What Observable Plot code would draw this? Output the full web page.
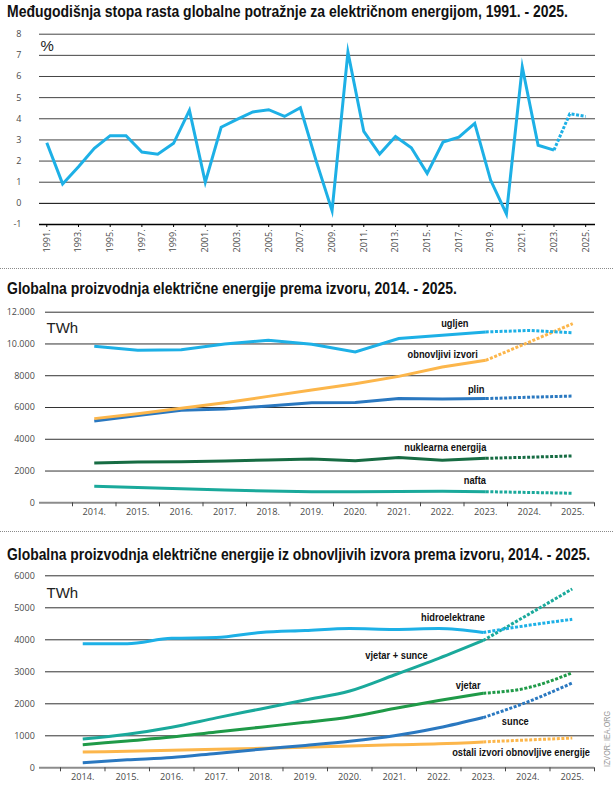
<!DOCTYPE html>
<html><head><meta charset="utf-8">
<script src="https://cdn.jsdelivr.net/npm/d3@7"></script>
<script src="https://cdn.jsdelivr.net/npm/@observablehq/plot@0.6"></script>
<style>
html,body{margin:0;padding:0;background:#fff;}
#root{position:relative;width:613px;height:791px;overflow:hidden;}
.title{position:absolute;left:7px;font-family:"Liberation Sans Narrow","Liberation Sans","Arial Narrow",sans-serif;font-weight:bold;font-size:16px;line-height:16px;color:#111;white-space:nowrap;transform-origin:0 0;}
.sep{position:absolute;left:0;width:613px;height:0;border-top:1px dotted #8a8a8a;}
.chart{position:absolute;left:0;}
.src{position:absolute;left:606.5px;top:739px;transform:translate(-50%,-50%) rotate(-90deg) scaleX(0.85);font-family:"Liberation Sans",sans-serif;font-size:8.5px;color:#9a9a9a;white-space:nowrap;}
</style></head>
<body><div id="root">
<div class="title" id="t1" data-w="561" style="top:4px">Međugodišnja stopa rasta globalne potražnje za električnom energijom, 1991. - 2025.</div>
<div class="chart" id="c1" style="top:0px"></div>
<div class="sep" style="top:268px"></div>
<div class="title" id="t2" data-w="450" style="top:280.5px">Globalna proizvodnja električne energije prema izvoru, 2014. - 2025.</div>
<div class="chart" id="c2" style="top:300px"></div>
<div class="sep" style="top:531px"></div>
<div class="title" id="t3" data-w="583" style="top:547.2px">Globalna proizvodnja električne energije iz obnovljivih izvora prema izvoru, 2014. - 2025.</div>
<div class="chart" id="c3" style="top:562px"></div>
<div class="src">IZVOR: IEA.ORG</div>
</div>
<script>
// ---------- Data: chart 1 ----------
const years1 = [1991,1992,1993,1994,1995,1996,1997,1998,1999,2000,2001,2002,2003,2004,2005,2006,2007,2008,2009,2010,2011,2012,2013,2014,2015,2016,2017,2018,2019,2020,2021,2022,2023,2024,2025];
const growth = [2.87,0.92,1.73,2.6,3.2,3.2,2.43,2.32,2.84,4.4,1.0,3.6,3.97,4.32,4.43,4.11,4.52,2.0,-0.35,7.15,3.4,2.33,3.16,2.63,1.42,2.9,3.13,3.78,1.1,-0.5,6.45,2.75,2.52,4.24,4.11];
const xTicks1 = [1991,1993,1995,1997,1999,2001,2003,2005,2007,2009,2011,2013,2015,2017,2019,2021,2023,2025];
const xTickLabels1 = ["1991.","1993.","1995.","1997.","1999.","2001.","2003.","2005.","2007.","2009.","2011.","2013.","2015.","2017.","2019.","2021.","2023.","2025."];
const yTicks1 = [-1,0,1,2,3,4,5,6,7,8];
const yTickLabels1 = ["-1","0","1","2","3","4","5","6","7","8"];

// ---------- Data: chart 2 ----------
const years2 = [2014,2015,2016,2017,2018,2019,2020,2021,2022,2023,2024,2025];
const yearLabels2 = ["2014.","2015.","2016.","2017.","2018.","2019.","2020.","2021.","2022.","2023.","2024.","2025."];
const coal = [9850,9600,9640,10000,10230,9980,9500,10340,10550,10760,10850,10700];
const renewables = [5300,5600,5950,6300,6700,7100,7500,7960,8550,8970,10120,11280];
const gas = [5150,5500,5830,5900,6100,6300,6320,6560,6540,6560,6650,6720];
const nuclear = [2500,2570,2580,2630,2700,2760,2650,2850,2680,2800,2870,2950];
const oil = [1040,960,890,800,740,700,690,710,730,700,650,600];
const yTicks2 = [0,2000,4000,6000,8000,10000,12000];
const yTickLabels2 = ["0","2000","4000","6000","8000","10.000","12.000"];
const labels2 = [
  {text:"ugljen", x:2022.29, y:11295},
  {text:"obnovljivi izvori", x:2022.01, y:9367},
  {text:"plin", x:2022.78, y:7162},
  {text:"nuklearna energija", x:2022.07, y:3485},
  {text:"nafta", x:2022.75, y:1386}
];

// ---------- Data: chart 3 ----------
const hydro = [3875,3880,4050,4070,4230,4290,4350,4320,4350,4230,4450,4640];
const windSolar = [900,1050,1270,1560,1840,2120,2400,2900,3420,3980,4780,5590];
const wind = [720,840,960,1120,1270,1420,1590,1850,2100,2330,2500,2970];
const solar = [160,250,320,450,580,700,830,1000,1250,1570,2060,2650];
const otherRen = [490,520,550,580,610,640,680,720,750,810,870,930];
const yTicks3 = [0,1000,2000,3000,4000,5000,6000];
const yTickLabels3 = ["0","1000","2000","3000","4000","5000","6000"];
const labels3 = [
  {text:"hidroelektrane", x:2022.32, y:4713},
  {text:"vjetar + sunce", x:2021.05, y:3506},
  {text:"vjetar", x:2022.66, y:2577},
  {text:"sunce", x:2023.72, y:1450},
  {text:"ostali izvori obnovljive energije", x:2023.85, y:471}
];
const bandEdges = [2013.5,2014.5,2015.5,2016.5,2017.5,2018.5,2019.5,2020.5,2021.5,2022.5,2023.5,2024.5,2025.5];

// ---------- Styles ----------
const C = {lightBlue:"#1db0e6", orange:"#fcb64b", blue:"#2a78c0", darkGreen:"#176c43", teal:"#1aa99b", green:"#1f9a48"};
const TICKFONT = "'Open Sans','Liberation Sans',sans-serif";
const LABELFONT = "'Liberation Sans',sans-serif";
const LW = 3;
const DOT = "3 1.6";
const lastSolid = 2023;

function series(years, vals) { return years.map((year, i) => ({year, value: vals[i]})); }
function lineMarks(data, color, curve) {
  return [
    Plot.line(data.filter(d => d.year <= lastSolid), {x:"year", y:"value", stroke:color, strokeWidth:LW, curve, strokeLinejoin:"miter", strokeMiterlimit:10, strokeLinecap:"butt"}),
    Plot.line(data.filter(d => d.year >= lastSolid), {x:"year", y:"value", stroke:color, strokeWidth:LW, curve, strokeDasharray:DOT, strokeLinecap:"butt"})
  ];
}
const baseStyle = {fontFamily: TICKFONT, fontSize:"9px", background:"transparent", overflow:"visible"};

// ---------- Chart 1 ----------
const d1 = series(years1, growth);
const p1 = Plot.plot({
  width:613, height:268, marginLeft:39, marginRight:18, marginTop:33.7, marginBottom:44,
  style: baseStyle,
  x: {type:"linear", domain:[1990.54, 2025.62], label:null},
  y: {domain:[-1, 8], label:null},
  marks: [
    Plot.ruleY(yTicks1.filter(v => v > 0), {stroke:"#444", strokeWidth:1}),
    Plot.ruleY([0], {stroke:"#000", strokeWidth:1}),
    Plot.ruleY([-1], {stroke:"#000", strokeWidth:1.5}),
    Plot.axisY({ticks:yTicks1, tickFormat: d => yTickLabels1[yTicks1.indexOf(d)], tickSize:0, tickPadding:18, fontSize:9, fill:"#4a4a4a", label:null}),
    Plot.axisX({ticks:xTicks1, tickFormat: d => xTickLabels1[xTicks1.indexOf(d)], tickRotate:-90, tickSize:3, tickPadding:2, stroke:"#000", fontSize:9, fill:"#4a4a4a", label:null}),
    ...lineMarks(d1, C.lightBlue, "linear"),
    Plot.text(["%"], {frameAnchor:"top-left", dx:1, dy:11.6, textAnchor:"start", lineAnchor:"middle", fontSize:15, fontFamily:"'Liberation Sans',sans-serif", fill:"#222"})
  ]
});
document.getElementById("c1").appendChild(p1);

// ---------- Chart 2 ----------
const p2 = Plot.plot({
  width:613, height:228, marginLeft:45, marginRight:19, marginTop:11.7, marginBottom:25.7,
  style: baseStyle,
  x: {type:"linear", domain:[2012.879, 2025.5], label:null},
  y: {domain:[0, 12000], label:null},
  marks: [
    Plot.ruleY(yTicks2.filter(v => v > 0), {stroke:"#333", strokeWidth:1}),
    Plot.ruleY([0], {x1:2012.741, x2:2025.5, stroke:"#8c8c8c", strokeWidth:2}),
    Plot.axisY({ticks:yTicks2, tickFormat: d => yTickLabels2[yTicks2.indexOf(d)], tickSize:0, tickPadding:10.7, fontSize:9, fill:"#4a4a4a", label:null}),
    Plot.axisX({ticks:bandEdges, tickFormat: () => "", tickSize:4, stroke:"#444", label:null}),
    Plot.axisX({ticks:years2, tickFormat: d => yearLabels2[years2.indexOf(d)], tickSize:0, tickPadding:6, fontSize:9.2, fill:"#4a4a4a", label:null}),
    ...lineMarks(series(years2, oil), C.teal, "linear"),
    ...lineMarks(series(years2, nuclear), C.darkGreen, "linear"),
    ...lineMarks(series(years2, gas), C.blue, "linear"),
    ...lineMarks(series(years2, renewables), C.orange, "linear"),
    ...lineMarks(series(years2, coal), C.lightBlue, "linear"),
    Plot.text(labels2, {x:"x", y:"y", text:"text", fontFamily:LABELFONT, fontWeight:"bold", fontSize:11.2, fill:"#111", className:"lbl"}),
    Plot.text(["TWh"], {frameAnchor:"top-left", dx:1, dy:15.8, textAnchor:"start", lineAnchor:"middle", fontSize:15, fontFamily:"'Liberation Sans',sans-serif", fill:"#222"})
  ]
});
document.getElementById("c2").appendChild(p2);

// ---------- Chart 3 ----------
const p3 = Plot.plot({
  width:613, height:229, marginLeft:45, marginRight:19, marginTop:13.3, marginBottom:23.7,
  style: baseStyle,
  x: {type:"linear", domain:[2013.163, 2025.5], label:null},
  y: {domain:[0, 6000], label:null},
  marks: [
    Plot.ruleY(yTicks3.filter(v => v > 0), {stroke:"#333", strokeWidth:1}),
    Plot.ruleY([0], {x1:2013.028, x2:2025.5, stroke:"#8c8c8c", strokeWidth:2}),
    Plot.axisY({ticks:yTicks3, tickFormat: d => yTickLabels3[yTicks3.indexOf(d)], tickSize:0, tickPadding:10.7, fontSize:9, fill:"#4a4a4a", label:null}),
    Plot.axisX({ticks:bandEdges, tickFormat: () => "", tickSize:4, stroke:"#444", label:null}),
    Plot.axisX({ticks:years2, tickFormat: d => yearLabels2[years2.indexOf(d)], tickSize:0, tickPadding:6, fontSize:9.2, fill:"#4a4a4a", label:null}),
    ...lineMarks(series(years2, otherRen), C.orange, "monotone-x"),
    ...lineMarks(series(years2, solar), C.blue, "monotone-x"),
    ...lineMarks(series(years2, wind), C.green, "monotone-x"),
    ...lineMarks(series(years2, windSolar), C.teal, "monotone-x"),
    ...lineMarks(series(years2, hydro), C.lightBlue, "monotone-x"),
    Plot.text(labels3, {x:"x", y:"y", text:"text", fontFamily:LABELFONT, fontWeight:"bold", fontSize:11.2, fill:"#111", className:"lbl"}),
    Plot.text(["TWh"], {frameAnchor:"top-left", dx:1, dy:17.2, textAnchor:"start", lineAnchor:"middle", fontSize:15, fontFamily:"'Liberation Sans',sans-serif", fill:"#222"})
  ]
});
document.getElementById("c3").appendChild(p3);

// condense series labels horizontally (reference uses a condensed bold face)
document.querySelectorAll(".lbl text").forEach(t => {
  const tr = t.getAttribute("transform");
  if (tr) {
    t.setAttribute("transform", tr + " scale(0.83,1)");
  } else {
    const x = +t.getAttribute("x") || 0, y = +t.getAttribute("y") || 0;
    t.removeAttribute("x"); t.removeAttribute("y");
    t.setAttribute("transform", `translate(${x},${y}) scale(0.83,1)`);
  }
});

// fit title widths
document.querySelectorAll(".title").forEach(el => {
  const w = el.getBoundingClientRect().width;
  const target = +el.dataset.w;
  if (w > 0) el.style.transform = `scaleX(${target / w})`;
});
</script></body></html>
